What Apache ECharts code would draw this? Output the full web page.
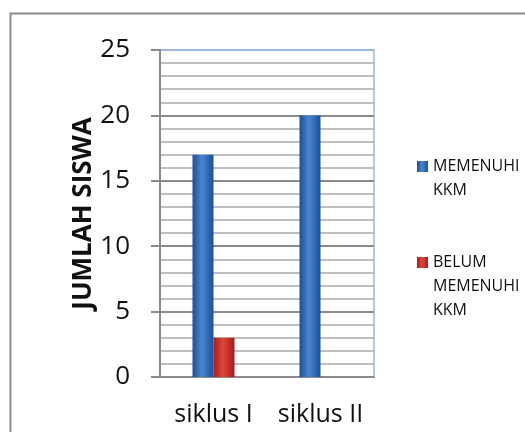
<!DOCTYPE html>
<html>
<head>
<meta charset="utf-8">
<script src="https://cdn.jsdelivr.net/npm/echarts@6/dist/echarts.min.js"></script>
<style>
html,body{margin:0;padding:0;background:#fff;}
#c{width:525px;height:432px;}
</style>
</head>
<body>
<div id="c"></div>
<script>
const categories = ['siklus I', 'siklus II'];
const memenuhi = [17, 20];
const belum = [3, 0];
const seriesNames = ['MEMENUHI\nKKM', 'BELUM\nMEMENUHI\nKKM'];
const yTitle = 'JUMLAH SISWA';

const chart = echarts.init(document.getElementById('c'), null, {renderer: 'canvas'});
const FONT = 'Open Sans';

function barGrad(dark, light) {
  return new echarts.graphic.LinearGradient(0, 0, 1, 0, [
    {offset: 0, color: dark},
    {offset: 0.45, color: light},
    {offset: 1, color: dark}
  ]);
}

chart.setOption({
  animation: false,
  textStyle: {fontFamily: FONT},
  graphic: [{
    type: 'rect',
    shape: {x: 10.5, y: 13.5, width: 560, height: 460},
    style: {fill: 'none', stroke: '#8a8a8a', lineWidth: 2},
    z: 100
  }],
  grid: {
    left: 160, right: 151, top: 50, bottom: 55,
    show: true, borderColor: '#9db6e0', borderWidth: 1.5, backgroundColor: 'transparent'
  },
  legend: {
    orient: 'vertical',
    left: 412, top: 125.5,
    itemWidth: 11, itemHeight: 11, itemGap: 0,
    icon: 'rect',
    formatter: function (name) {
      const n = name.split('\n').length;
      return '\n'.repeat(n - 1) + name;
    },
    textStyle: {fontFamily: FONT, fontSize: 16, lineHeight: 24, color: '#111'},
    data: seriesNames
  },
  xAxis: {
    type: 'category',
    data: categories,
    axisLine: {lineStyle: {color: '#8a8a8a', width: 2}},
    axisTick: {show: false},
    axisLabel: {fontFamily: FONT, fontSize: 25, color: '#111', margin: 25, interval: 0, hideOverlap: false}
  },
  yAxis: {
    type: 'value',
    min: 0, max: 25, interval: 5,
    name: yTitle,
    nameLocation: 'middle',
    nameGap: 62,
    nameTextStyle: {fontFamily: FONT, fontSize: 26, fontWeight: 'bold', color: '#111'},
    axisLine: {show: true, lineStyle: {color: '#8a8a8a', width: 2}},
    axisTick: {show: true, length: 9, lineStyle: {color: '#8a8a8a', width: 2}},
    axisLabel: {fontFamily: FONT, fontSize: 26, color: '#111', margin: 30},
    splitLine: {show: true, lineStyle: {color: ['#8a8a8a', '#8a8a8a', '#8a8a8a', '#8a8a8a', '#8a8a8a', '#9db6e0'], width: 2}},
    minorTick: {show: false, splitNumber: 5},
    minorSplitLine: {show: true, lineStyle: {color: '#ababab', width: 1.5}}
  },
  series: [
    {
      name: seriesNames[0], type: 'bar', data: memenuhi,
      barWidth: 21, barGap: '0%',
      itemStyle: {color: barGrad('#1d4f96', '#4a86d2')},
      z: 3
    },
    {
      name: seriesNames[1], type: 'bar', data: belum,
      barWidth: 21,
      itemStyle: {color: barGrad('#a11e1a', '#e0473c')},
      z: 3
    }
  ]
});
</script>
</body>
</html>
